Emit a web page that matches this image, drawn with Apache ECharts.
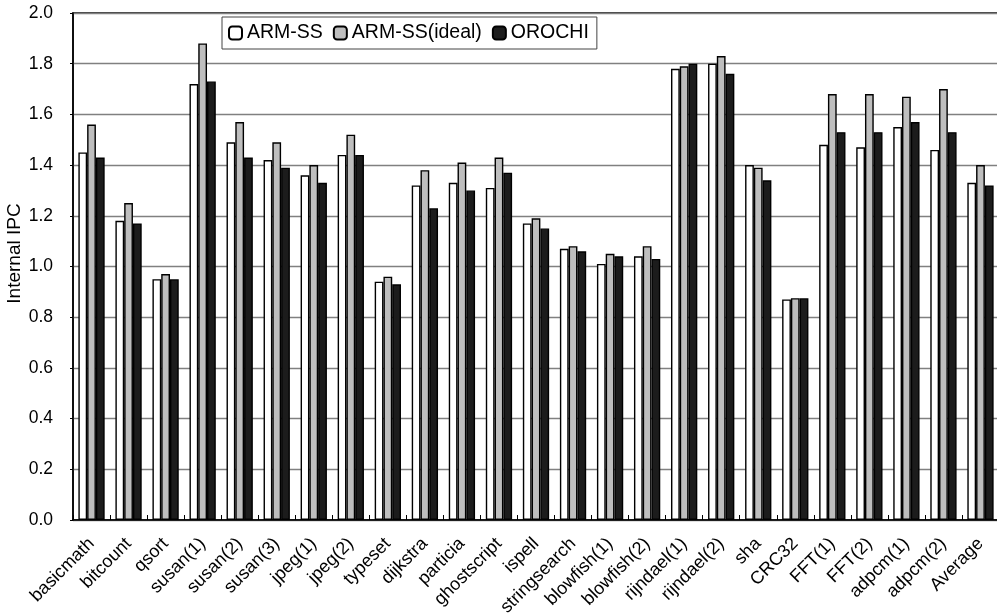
<!DOCTYPE html>
<html>
<head>
<meta charset="utf-8">
<script src="https://cdn.jsdelivr.net/npm/echarts@6/dist/echarts.min.js"></script>
<style>
html,body{margin:0;padding:0;background:#fff;}
#chart{width:997px;height:615px;}
</style>
</head>
<body>
<div id="chart"></div>
<script>
var categories = ['basicmath','bitcount','qsort','susan(1)','susan(2)','susan(3)','jpeg(1)','jpeg(2)','typeset','dijkstra','particia','ghostscript','ispell','stringsearch','blowfish(1)','blowfish(2)','rijndael(1)','rijndael(2)','sha','CRC32','FFT(1)','FFT(2)','adpcm(1)','adpcm(2)','Average'];
var armSS      = [1.45,1.18,0.95,1.72,1.49,1.42,1.36,1.44,0.94,1.32,1.33,1.31,1.17,1.07,1.01,1.04,1.78,1.80,1.40,0.87,1.48,1.47,1.55,1.46,1.33];
var armSSIdeal = [1.56,1.25,0.97,1.88,1.57,1.49,1.40,1.52,0.96,1.38,1.41,1.43,1.19,1.08,1.05,1.08,1.79,1.83,1.39,0.875,1.68,1.68,1.67,1.70,1.40];
var orochi     = [1.43,1.17,0.95,1.73,1.43,1.39,1.33,1.44,0.93,1.23,1.30,1.37,1.15,1.06,1.04,1.03,1.80,1.76,1.34,0.875,1.53,1.53,1.57,1.53,1.32];
var yTicks = [0,0.2,0.4,0.6,0.8,1.0,1.2,1.4,1.6,1.8,2.0];

var chart = echarts.init(document.getElementById('chart'));
var font = 'Liberation Sans, Arial, sans-serif';
function bar(name, data, color) {
  return {
    name: name, type: 'bar', data: data,
    barGap: '0%', barCategoryGap: '29%',
    itemStyle: { color: color, borderColor: '#000', borderWidth: 1.4 }
  };
}
chart.setOption({
  animation: false,
  backgroundColor: '#fff',
  grid: { left: 73, right: -2, top: 13, bottom: 95, show: true, borderColor: '#000', borderWidth: 1.5,
          backgroundColor: 'transparent', containLabel: false, outerBoundsMode: 'none' },
  legend: {
    left: 222, top: 17,
    itemWidth: 13, itemHeight: 13, itemGap: 10,
    padding: [6, 8, 6, 6],
    borderColor: '#444', borderWidth: 1,
    textStyle: { fontFamily: font, fontSize: 19.5, color: '#000' },
    data: ['ARM-SS', 'ARM-SS(ideal)', 'OROCHI']
  },
  xAxis: {
    type: 'category', data: categories,
    axisLine: { lineStyle: { color: '#000', width: 1.5 } },
    axisTick: { show: true, inside: true, length: 5, lineStyle: { color: '#000' } },
    axisLabel: { rotate: 45, fontFamily: font, fontSize: 18, color: '#000', margin: 21, interval: 0 }
  },
  yAxis: {
    type: 'value', min: 0, max: 2.0, interval: 0.2,
    name: 'Internal IPC', nameLocation: 'middle', nameGap: 49, nameRotate: 90, nameMoveOverlap: false,
    nameTextStyle: { fontFamily: font, fontSize: 19, color: '#000', padding: [0, 0, 0, 26] },
    axisLine: { show: true, lineStyle: { color: '#000', width: 1.5 } },
    axisTick: { show: true, length: 3, lineStyle: { color: '#000' } },
    axisLabel: { fontFamily: font, fontSize: 17.5, color: '#000', margin: 20,
      formatter: function (v) { return v.toFixed(1); } },
    splitLine: { lineStyle: { color: '#808080', width: 1.3 } }
  },
  series: [
    bar('ARM-SS', armSS, '#ffffff'),
    bar('ARM-SS(ideal)', armSSIdeal, '#bebebe'),
    bar('OROCHI', orochi, '#1c1c1c')
  ]
});
</script>
</body>
</html>
